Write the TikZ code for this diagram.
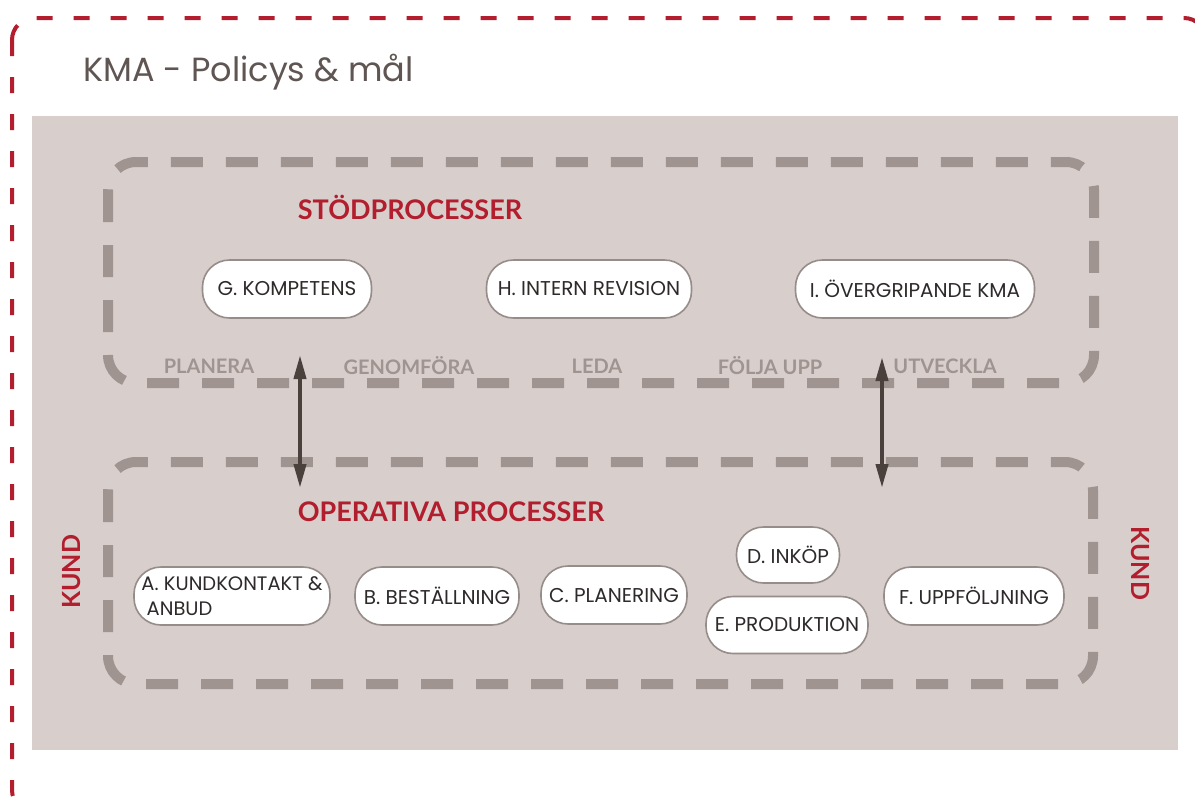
\documentclass[tikz,border=0pt]{standalone}
\usepackage{fontspec}
\setmainfont{Poppins}
\newfontfamily\labfont{Lato}
\usetikzlibrary{arrows.meta}
\definecolor{kred}{RGB}{178,30,45}
\definecolor{kbg}{RGB}{216,207,205}
\definecolor{kdash}{RGB}{160,148,145}
\definecolor{kborder}{RGB}{150,140,137}
\definecolor{ktext}{RGB}{45,42,41}
\definecolor{ktitle}{RGB}{95,85,83}
\definecolor{karrow}{RGB}{75,65,60}
\tikzset{
  reddash/.style={draw=kred, line width=4pt, dash pattern=on 16pt off 21pt, rounded corners=22pt},
  graydash/.style={draw=kdash, line width=10pt, dash pattern=on 32pt off 23pt, rounded corners=28pt},
  proc/.style={draw=kborder, line width=1.6pt, fill=white, rounded corners=27pt, minimum height=58pt,
     inner sep=1pt, text=ktext, font=\fontsize{20}{23}\selectfont},
  redlab/.style={text=kred, font=\labfont\bfseries\fontsize{27}{30}\selectfont},
  phase/.style={text=kdash, font=\labfont\bfseries\fontsize{20}{22}\selectfont},
  kund/.style={text=kred, font=\labfont\bfseries\fontsize{25}{28}\selectfont},
  biarrow/.style={draw=karrow, line width=4pt, {Triangle[length=24pt,width=12pt]}-{Triangle[length=24pt,width=12pt]}}
}
\begin{document}
\begin{tikzpicture}[x=1pt,y=-1pt]
\useasboundingbox (0,0) rectangle (1195,796);
\clip (0,0) rectangle (1195,796);
\fill[white] (0,0) rectangle (1195,796);
\draw[reddash] (12,18) rectangle (1206,812);
\node[anchor=west, text=ktitle, font=\fontsize{33.5}{36}\selectfont] (title) at (80,72) {KMA - Policys \& mål};
\fill[kbg] (32,116) rectangle (1178,750);
\draw[graydash] (108,162) rectangle (1094,383);
\draw[graydash] (108,462) rectangle (1093,684);

\node[redlab] (stod) at (410,207) {STÖDPROCESSER};
\node[redlab] (oper) at (451,512) {OPERATIVA PROCESSER};

\node[phase] (planera) at (209,366) {PLANERA};
\node[phase] (genom) at (409,366) {GENOMFÖRA};
\node[phase] (leda) at (597,366) {LEDA};
\node[phase] (folja) at (770,366) {FÖLJA UPP};
\node[phase] (utv) at (945,366) {UTVECKLA};

\node[kund, rotate=90] (kundl) at (72,572) {KUND};
\node[kund, rotate=-90] (kundr) at (1140,563) {KUND};

\node[proc, minimum width=169pt] (G) at (287,289) {G. KOMPETENS};
\node[proc, minimum width=205pt] (H) at (589,289) {H. INTERN REVISION};
\node[proc, minimum width=239pt] (I) at (915,289) {I. ÖVERGRIPANDE KMA};

\node[proc, minimum width=196pt, align=left, font=\fontsize{19.5}{25}\selectfont] (A) at (232,596) {A. KUNDKONTAKT \&\\\ ANBUD};
\node[proc, minimum width=164pt] (B) at (437,596) {B. BESTÄLLNING};
\node[proc, minimum width=146pt] (C) at (614,595) {C. PLANERING};
\node[proc, minimum width=103pt, minimum height=56pt] (D) at (788,555) {D. INKÖP};
\node[proc, minimum width=162pt, minimum height=57pt] (E) at (787,625) {E. PRODUKTION};
\node[proc, minimum width=180pt] (F) at (974,596) {F. UPPFÖLJNING};

\coordinate (a1t) at (300,355);
\coordinate (a1b) at (300,488);
\coordinate (a2t) at (882,357);
\coordinate (a2b) at (882,488);
\draw[biarrow] (a1t) -- (a1b);
\draw[biarrow] (a2t) -- (a2b);
\end{tikzpicture}
\end{document}
